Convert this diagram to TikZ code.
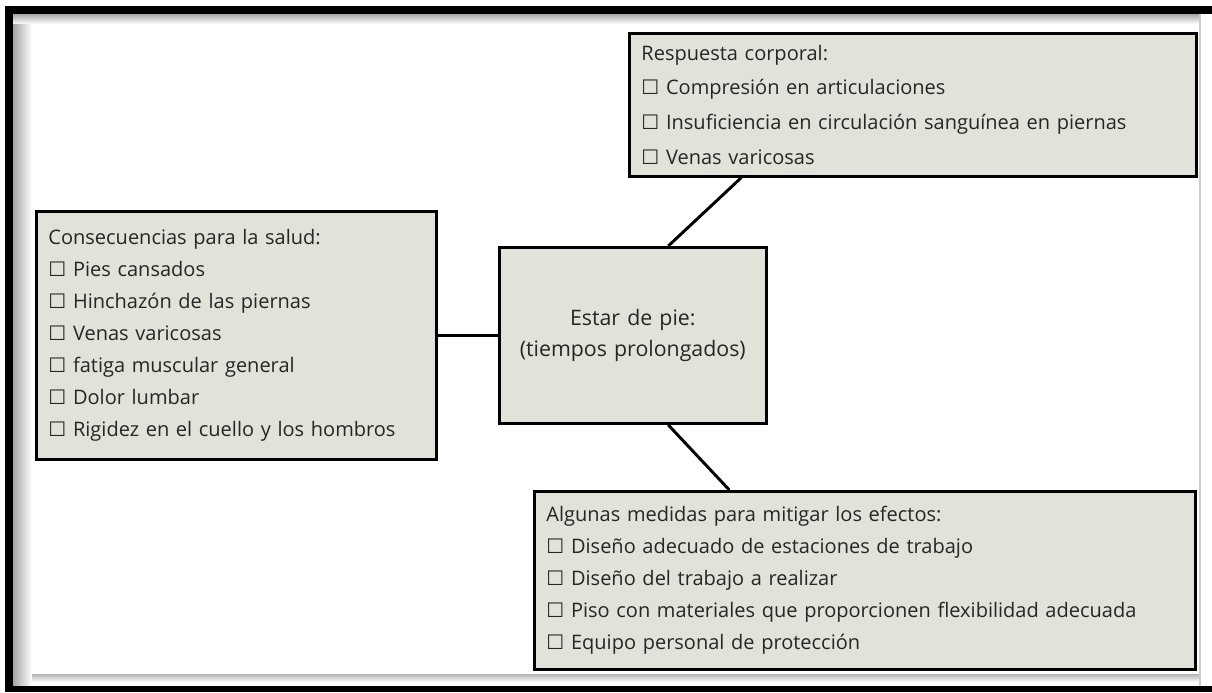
\documentclass[tikz,border=0pt]{standalone}
\usepackage{fontspec}
\setmainfont{Open Sans}
\newfontfamily\symfont{DejaVu Sans}
\usepackage{tikz}
\usetikzlibrary{shadows}

\definecolor{cajagris}{HTML}{E1E2D9}
\definecolor{textogris}{HTML}{262626}
\newcommand{\casilla}{{\symfont\char"2610}\ }

\tikzset{
  caja/.style={draw=black, line width=2.2pt, fill=cajagris, text=textogris,
    align=left, anchor=north west, inner xsep=9pt, inner ysep=0pt,
    font=\fontsize{15pt}{24pt}\selectfont,
    drop shadow={shadow xshift=1.5pt, shadow yshift=-1.5pt, opacity=0.35}},
  linea/.style={line width=2.2pt}
}

\begin{document}
\begin{tikzpicture}[x=0.75pt, y=-0.75pt]
    \useasboundingbox (0,0) rectangle (1212,692);
    % marco
    \fill[white] (0,0) rectangle (1212,692);
    \shade[left color=gray!70, right color=white] (13,14) rectangle (32,686);
    \shade[top color=gray!70, bottom color=white] (13,14) rectangle (1200,24);
    \shade[top color=gray!60, bottom color=white] (32,674) rectangle (1200,682);
    \fill[gray!40] (1199,14) rectangle (1201,686);
    \fill[black] (5,6) rectangle (1212,14);
    \fill[black] (5,6) rectangle (13,692);
    \fill[black] (5,686) rectangle (1212,692);
    % cajas
    \node[caja, text width=282pt, minimum height=186pt] (salud) at (35,210)
        {Consecuencias para la salud:\\
         \casilla Pies cansados\\
         \casilla Hinchazón de las piernas\\
         \casilla Venas varicosas\\
         \casilla fatiga muscular general\\
         \casilla Dolor lumbar\\
         \casilla Rigidez en el cuello y los hombros};
    \node[caja, align=center, text width=182pt, minimum height=132pt,
        font=\fontsize{16pt}{23pt}\selectfont] (pie) at (498,246)
        {Estar de pie:\\(tiempos prolongados)};
    \node[caja, text width=407pt, minimum height=107pt,
        font=\fontsize{15pt}{26pt}\selectfont] (respuesta) at (628,32)
        {Respuesta corporal:\\
         \casilla Compresión en articulaciones\\
         \casilla Insuficiencia en circulación sanguínea en piernas\\
         \casilla Venas varicosas};
    \node[caja, text width=477.5pt, minimum height=133.5pt] (medidas) at (533,490)
        {Algunas medidas para mitigar los efectos:\\
         \casilla Diseño adecuado de estaciones de trabajo\\
         \casilla Diseño del trabajo a realizar\\
         \casilla Piso con materiales que proporcionen flexibilidad adecuada\\
         \casilla Equipo personal de protección};
    % conectores
    \draw[linea] (salud.east) -- (pie.west);
    \draw[linea] ([xshift=-128.6pt]respuesta.south) -- ([xshift=26.6pt]pie.north);
    \draw[linea] ([xshift=26.6pt]pie.south) -- ([xshift=-101.6pt]medidas.north);
\end{tikzpicture}
\end{document}
